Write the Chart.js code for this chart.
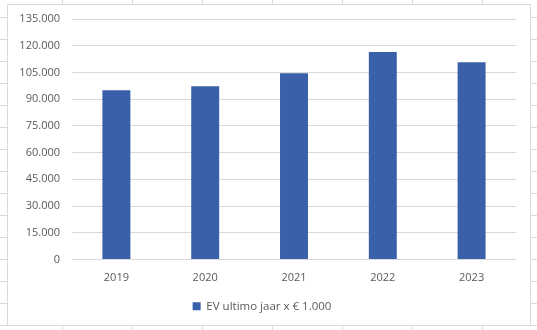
<!DOCTYPE html>
<html lang="nl">
<head>
    <meta charset="UTF-8">
    <title>EV ultimo jaar</title>
    <script src="https://cdn.jsdelivr.net/npm/chart.js"></script>
    <style>
        html, body {
            margin: 0;
            padding: 0;
        }
        body {
            width: 537px;
            height: 330px;
            position: relative;
            overflow: hidden;
            /* spreadsheet cells behind the chart */
            background-color: #fff;
            background-image:
                repeating-linear-gradient(to right, transparent 0, transparent 69px, #dadada 69px, #dadada 70px),
                repeating-linear-gradient(to bottom, transparent 0, transparent 21px, #dadada 21px, #dadada 22px);
            background-position: -7px -4px;
        }
        .panel {
            position: absolute;
            left: 7px;
            top: 4px;
            width: 524px;
            height: 322px;
            box-sizing: border-box;
            border: 1px solid #d9d9d9;
            background: #fff;
        }
        canvas {
            display: block;
        }
    </style>
</head>
<body>
    <div class="panel">
        <canvas id="evChart" width="522" height="320"></canvas>
    </div>

    <script>
        // data
        const jaren = ['2019', '2020', '2021', '2022', '2023'];
        const evWaarden = [95000, 97200, 104600, 116500, 110700];
        const serieNaam = 'EV ultimo jaar x € 1.000';

        // 135000 -> "135.000"
        const formatNL = v => String(v).replace(/\B(?=(\d{3})+(?!\d))/g, '.');

        new Chart(document.getElementById('evChart'), {
            type: 'bar',
            data: {
                labels: jaren,
                datasets: [{
                    label: serieNaam,
                    data: evWaarden,
                    backgroundColor: '#3a60aa',
                    borderWidth: 0,
                    categoryPercentage: 1,
                    barPercentage: 0.315
                }]
            },
            options: {
                responsive: false,
                animation: false,
                devicePixelRatio: 1,
                layout: {
                    padding: { left: 0, right: 14, top: 14, bottom: 3 }
                },
                plugins: {
                    tooltip: { enabled: false },
                    legend: {
                        position: 'bottom',
                        labels: {
                            boxWidth: 8,
                            boxHeight: 8,
                            padding: 10,
                            color: '#595959',
                            font: { family: 'Open Sans', size: 11.5 }
                        }
                    }
                },
                scales: {
                    x: {
                        grid: { display: false },
                        border: { display: false },
                        ticks: {
                            color: '#595959',
                            padding: 4,
                            font: { family: 'Open Sans', size: 11 }
                        },
                        afterFit: scale => { scale.height = 31; }
                    },
                    y: {
                        min: 0,
                        max: 135000,
                        grid: { color: '#d9d9d9', tickLength: 10, tickColor: 'transparent' },
                        border: { display: false },
                        ticks: {
                            stepSize: 15000,
                            color: '#595959',
                            padding: 2,
                            font: { family: 'Open Sans', size: 11 },
                            callback: v => formatNL(v)
                        },
                        afterFit: scale => { scale.width = 64; }
                    }
                }
            }
        });
    </script>
</body>
</html>
